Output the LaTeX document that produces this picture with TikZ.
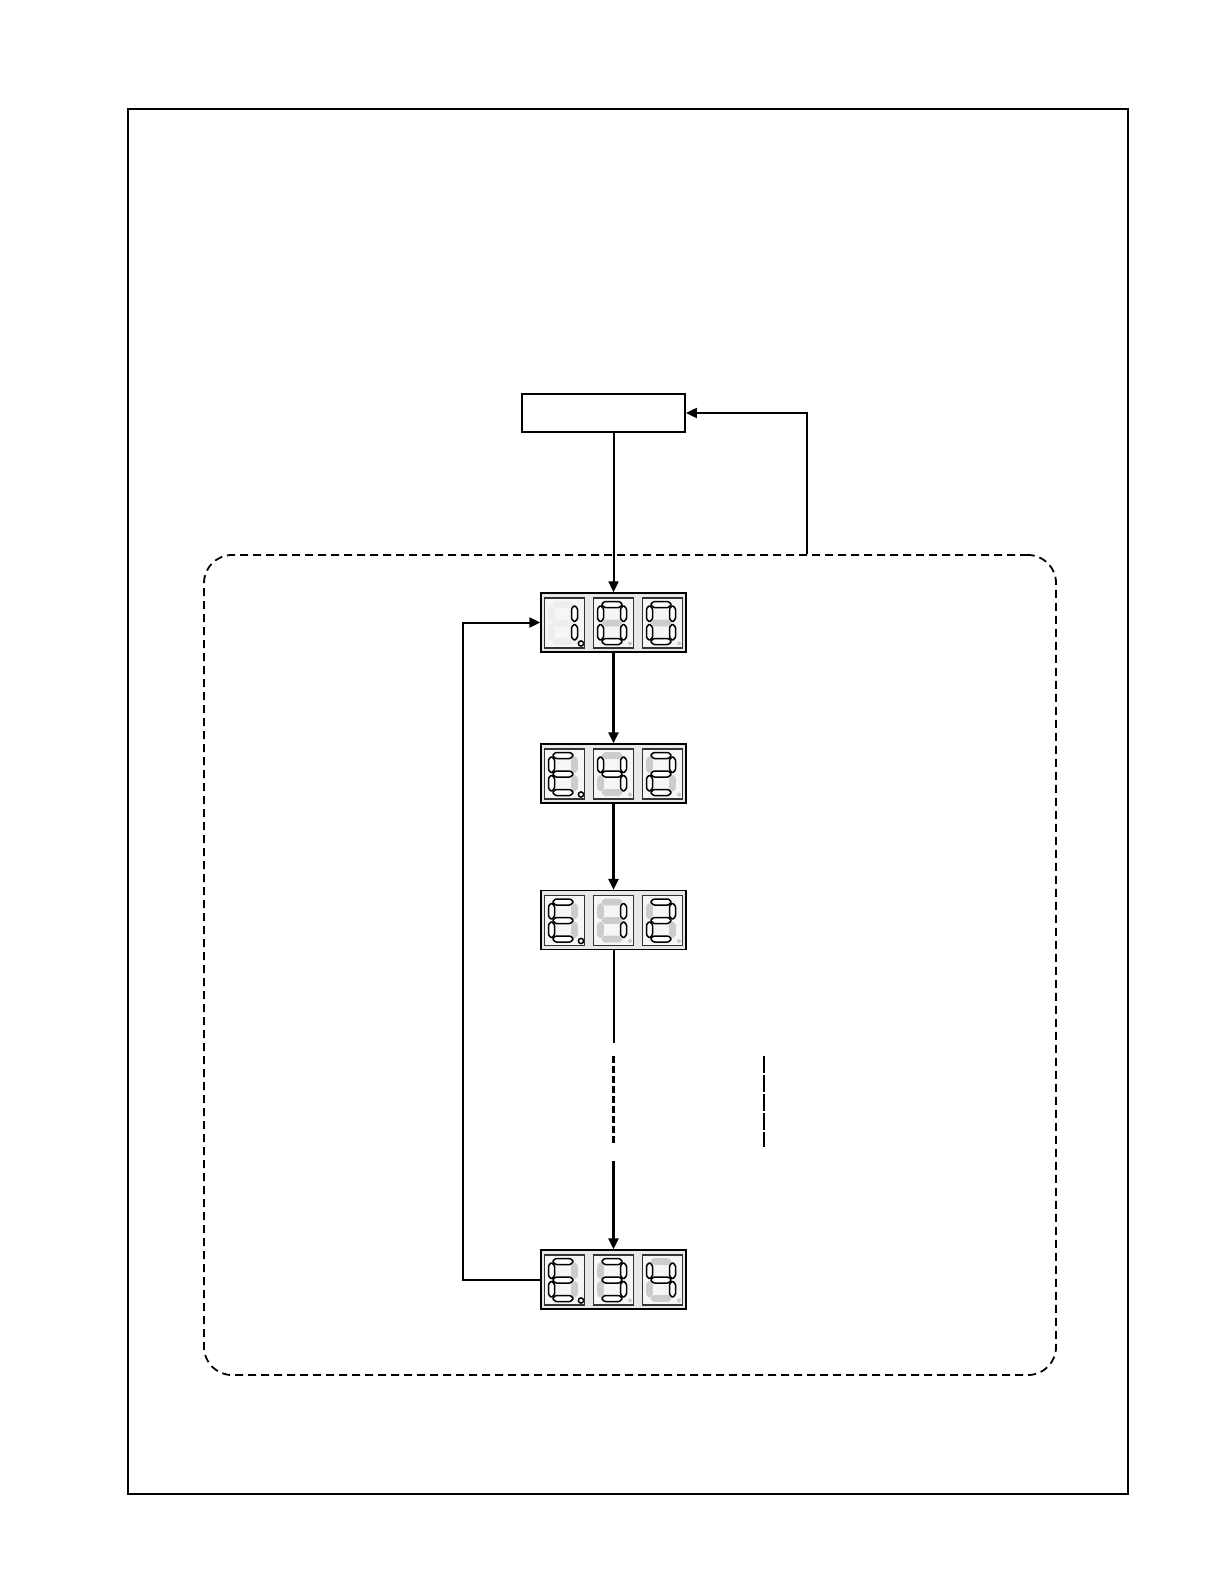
\documentclass[tikz,border=0pt]{standalone}
\usetikzlibrary{arrows.meta}
\tikzset{
  conn/.style={line width=2pt,-{Triangle[length=11pt,width=10pt]}},
  thinconn/.style={line width=2pt,-{Triangle[length=11pt,width=10pt]}},
  plainbox/.style={draw=black,line width=1.8pt,minimum width=163pt,minimum height=38pt,inner sep=0pt},
  disp/.style={draw=black,line width=1.3pt,fill=gray!18,minimum width=145pt,minimum height=59pt,inner sep=0pt},
  cellbox/.style={draw=black!80,line width=1.4pt,fill=gray!7},
  grpbox/.style={draw=black,line width=1.8pt,dash pattern=on 8pt off 5pt,rounded corners=28pt,minimum width=852pt,minimum height=820pt,inner sep=0pt},
  segon/.style={draw=black,fill=white,line width=1.5pt,rounded corners=1pt,line join=round},
}
\def\parsesegs#1#2#3#4#5#6#7\relax{\def\sA{#1}\def\sB{#2}\def\sC{#3}\def\sD{#4}\def\sE{#5}\def\sF{#6}\def\sG{#7}}
\newcommand\drawseg[2]{\ifnum#1=1 \path[segon] #2;\else \path[segoff] #2;\fi}
\newcommand\hsg[3]{(#1,#3) -- ({#1+3},{#3-3}) -- ({#2-3},{#3-3}) -- (#2,#3) -- ({#2-3},{#3+3}) -- ({#1+3},{#3+3}) -- cycle}
\newcommand\vsg[3]{(#1,#2) -- ({#1+3},{#2+3}) -- ({#1+3},{#3-3}) -- (#1,#3) -- ({#1-3},{#3-3}) -- ({#1-3},{#2+3}) -- cycle}
\newcommand\sdigit[4]{%
  \begin{scope}[shift={#1},segoff/.style={fill=#4,draw=#4,line width=0.8pt,rounded corners=1pt,line join=round}]
    \parsesegs#2\relax
    \drawseg{\sA}{\hsg{-12}{9}{-18.5}}
    \drawseg{\sB}{\vsg{10}{-17.5}{-1}}
    \drawseg{\sC}{\vsg{10}{1}{17.5}}
    \drawseg{\sD}{\hsg{-12}{9}{18.5}}
    \drawseg{\sE}{\vsg{-13}{1}{17.5}}
    \drawseg{\sF}{\vsg{-13}{-17.5}{-1}}
    \drawseg{\sG}{\hsg{-12}{9}{0}}
    \ifnum#3=1 \path[segon] (16.5,20.5) circle (2.6);\else \path[fill=#4] (16.5,20.5) circle (2);\fi
  \end{scope}}
\newcommand\cells[1]{%
  \begin{scope}[shift={(#1.center)}]
    \foreach \cx in {-49,0,49}{\path[cellbox] (\cx-20,-24.5) rectangle (\cx+20,25.5);}
  \end{scope}}
\begin{document}
\begin{tikzpicture}[x=1pt,y=-1pt]
\useasboundingbox (0,0) rectangle (1224,1584);
\draw[line width=1.8pt] (128,109) rectangle (1128,1494);

\node[plainbox] (top) at (603.5,413) {};
\node[grpbox] (grp) at (630,965) {};

\node[disp] (d1) at (613.5,622.5) {};
\node[disp] (d2) at (613.5,773.5) {};
\node[disp] (d3) at (613.5,920) {};
\node[disp] (d4) at (613.5,1279.5) {};

\cells{d1}\cells{d2}\cells{d3}\cells{d4}

\begin{scope}[shift={(d1.center)}]
  \sdigit{(-49,0.5)}{0110000}{1}{gray!13}
  \sdigit{(0,0.5)}{1111110}{0}{gray!40}
  \sdigit{(49,0.5)}{1111110}{0}{gray!40}
\end{scope}
\begin{scope}[shift={(d2.center)}]
  \sdigit{(-49,0.5)}{1001111}{1}{gray!40}
  \sdigit{(0,0.5)}{0110011}{0}{gray!40}
  \sdigit{(49,0.5)}{1101101}{0}{gray!40}
\end{scope}
\begin{scope}[shift={(d3.center)}]
  \sdigit{(-49,0.5)}{1001111}{1}{gray!40}
  \sdigit{(0,0.5)}{0110000}{0}{gray!40}
  \sdigit{(49,0.5)}{1101101}{0}{gray!40}
\end{scope}
\begin{scope}[shift={(d4.center)}]
  \sdigit{(-49,0.5)}{1001111}{1}{gray!40}
  \sdigit{(0,0.5)}{1111001}{0}{gray!40}
  \sdigit{(49,0.5)}{0110011}{0}{gray!40}
\end{scope}

% connectors
\draw[thinconn] (d1.north |- top.south) -- (d1.north);
\path (grp.north) ++(177,0) coordinate (fb);
\draw[conn] (fb) |- (top.east);
\draw[conn,line width=2.4pt] (d1.south) -- (d2.north);
\draw[conn,line width=2.4pt] (d2.south) -- (d3.north);

\coordinate (b1) at (613.5,1043);
\coordinate (b2) at (613.5,1056);
\coordinate (b3) at (613.5,1143);
\coordinate (b4) at (613.5,1161);
\draw[line width=2pt] (d3.south) -- (b1);
\draw[line width=2.4pt,dash pattern=on 7pt off 3pt] (b2) -- (b3);
\draw[conn,line width=2.4pt] (b4) -- (d4.north);

\coordinate (v1) at (764,1056);
\coordinate (v2) at (764,1147);
\draw[line width=1.4pt,dash pattern=on 17pt off 2pt] (v1) -- (v2);

\draw[conn] (d4.west) -- ++(-77,0) |- (d1.west);
\end{tikzpicture}
\end{document}
